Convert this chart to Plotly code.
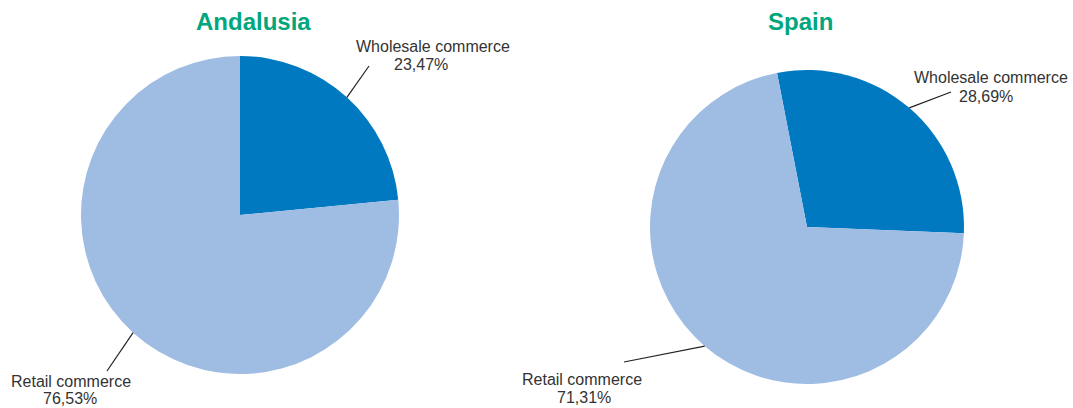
import numpy as np
import plotly.graph_objects as go

W, H = 1073, 408

# ---- data ----
categories = ["Wholesale commerce", "Retail commerce"]
andalusia_values = [23.47, 76.53]
spain_values = [28.69, 71.31]
andalusia_text = ["23,47%", "76,53%"]
spain_text = ["28,69%", "71,31%"]
titles = ["Andalusia", "Spain"]

colors = ["#0079c1", "#9fbce3"]
label_color = "#333333"
title_color = "#00a67e"
FONT = "Liberation Sans, Arial, Helvetica, sans-serif"

# ---- layout geometry (pixels) ----
pies = [
    dict(values=andalusia_values, texts=andalusia_text, cx=240, cy=215, r=159, rot=0,
         title_xy=(253, 21),
         label_end=[(369, 66), (107, 371)],
         name_pos=[(433, 46), (71, 381)],
         pct_pos=[(421, 64), (70, 398)]),
    dict(values=spain_values, texts=spain_text, cx=807, cy=227, r=157, rot=-11,
         title_xy=(800, 21),
         label_end=[(951, 92), (624, 362)],
         name_pos=[(991, 77), (582, 379)],
         pct_pos=[(584, 397), (986, 96)][::-1]),
]

def px(x):
    return x / W

def py(y):
    return 1 - y / H

fig = go.Figure()
shapes = []
annotations = []

def add_text(x, y, text, size, color):
    annotations.append(dict(
        x=px(x), y=py(y), xref="paper", yref="paper",
        text=text, showarrow=False, xanchor="center", yanchor="middle",
        font=dict(family=FONT, size=size, color=color),
    ))

for p, t in zip(pies, titles):
    fig.add_trace(go.Pie(
        labels=categories,
        values=p["values"],
        sort=False,
        direction="clockwise",
        rotation=p["rot"],
        marker=dict(colors=colors, line=dict(width=0)),
        textinfo="none",
        hoverinfo="label+percent",
        showlegend=False,
        domain=dict(x=[px(p["cx"] - p["r"]), px(p["cx"] + p["r"])],
                    y=[py(p["cy"] + p["r"]), py(p["cy"] - p["r"])]),
    ))
    vals = np.array(p["values"], dtype=float)
    cum = np.cumsum(vals) - vals / 2
    mids = p["rot"] + cum / vals.sum() * 360.0
    for i, ang in enumerate(mids):
        a = np.deg2rad(ang)
        sx = p["cx"] + p["r"] * np.sin(a)
        sy = p["cy"] - p["r"] * np.cos(a)
        ex, ey = p["label_end"][i]
        shapes.append(dict(type="line", xref="paper", yref="paper",
                           x0=px(sx), y0=py(sy), x1=px(ex), y1=py(ey),
                           line=dict(color="#222222", width=1.2)))
        nx, ny = p["name_pos"][i]
        add_text(nx, ny, categories[i], 16, label_color)
        qx, qy = p["pct_pos"][i]
        add_text(qx, qy, p["texts"][i], 16, label_color)
    tx, ty = p["title_xy"]
    add_text(tx, ty, "<b>" + t + "</b>", 24, title_color)

fig.update_layout(
    width=W, height=H,
    margin=dict(l=0, r=0, t=0, b=0),
    paper_bgcolor="white", plot_bgcolor="white",
    shapes=shapes, annotations=annotations,
)

fig.write_html("out.html", config={"displayModeBar": False},
               post_script="document.body.style.margin='0';")
